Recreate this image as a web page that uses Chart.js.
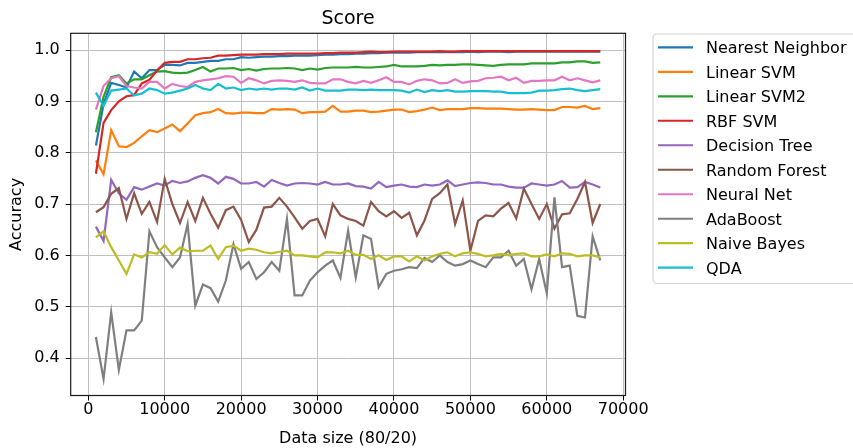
<!DOCTYPE html>
<html>
<head>
<meta charset="utf-8">
<script src="https://cdn.jsdelivr.net/npm/chart.js@4.4.0/dist/chart.umd.min.js"></script>
<style>
html,body{margin:0;padding:0;background:#fff;}
#wrap{width:853px;height:448px;position:relative;}
</style>
</head>
<body>
<div id="wrap"><canvas id="c" width="853" height="448"></canvas></div>
<script>
const sizes = [1000,2000,3000,4000,5000,6000,7000,8000,9000,10000,11000,12000,13000,14000,15000,16000,17000,18000,19000,20000,21000,22000,23000,24000,25000,26000,27000,28000,29000,30000,31000,32000,33000,34000,35000,36000,37000,38000,39000,40000,41000,42000,43000,44000,45000,46000,47000,48000,49000,50000,51000,52000,53000,54000,55000,56000,57000,58000,59000,60000,61000,62000,63000,64000,65000,66000,67000];

const nearestNeighbor = [0.814,0.895,0.936,0.932,0.927,0.958,0.945,0.961,0.961,0.971,0.971,0.970,0.975,0.975,0.977,0.979,0.979,0.982,0.982,0.986,0.985,0.986,0.987,0.987,0.988,0.988,0.989,0.989,0.989,0.990,0.991,0.991,0.992,0.992,0.993,0.993,0.994,0.994,0.995,0.995,0.995,0.995,0.996,0.996,0.996,0.996,0.996,0.996,0.996,0.997,0.996,0.997,0.997,0.997,0.996,0.997,0.997,0.997,0.997,0.997,0.997,0.997,0.997,0.997,0.997,0.997,0.997];
const linearSVM = [0.785,0.758,0.844,0.8125,0.811,0.819,0.832,0.844,0.840,0.847,0.855,0.842,0.857,0.873,0.877,0.879,0.885,0.877,0.876,0.878,0.878,0.877,0.877,0.885,0.884,0.885,0.884,0.877,0.879,0.879,0.880,0.891,0.880,0.880,0.882,0.882,0.879,0.880,0.882,0.884,0.884,0.879,0.881,0.884,0.888,0.883,0.885,0.885,0.885,0.887,0.887,0.886,0.886,0.886,0.885,0.884,0.884,0.885,0.884,0.883,0.883,0.889,0.889,0.888,0.891,0.885,0.887];
const linearSVM2 = [0.840,0.909,0.947,0.951,0.935,0.943,0.943,0.951,0.958,0.959,0.956,0.955,0.956,0.961,0.967,0.958,0.964,0.964,0.965,0.961,0.963,0.960,0.963,0.964,0.964,0.965,0.964,0.961,0.964,0.962,0.965,0.966,0.966,0.966,0.967,0.966,0.966,0.967,0.968,0.971,0.968,0.968,0.968,0.969,0.971,0.970,0.971,0.971,0.972,0.972,0.971,0.970,0.969,0.971,0.972,0.972,0.972,0.974,0.974,0.974,0.974,0.976,0.976,0.978,0.978,0.975,0.976];
const rbfSVM = [0.759,0.858,0.883,0.900,0.910,0.912,0.935,0.942,0.960,0.975,0.977,0.977,0.982,0.982,0.984,0.985,0.989,0.989,0.990,0.991,0.991,0.991,0.992,0.992,0.992,0.993,0.993,0.993,0.993,0.993,0.994,0.994,0.995,0.995,0.995,0.996,0.997,0.996,0.996,0.997,0.997,0.997,0.997,0.997,0.997,0.998,0.997,0.997,0.998,0.998,0.998,0.998,0.998,0.998,0.998,0.998,0.998,0.998,0.998,0.998,0.998,0.998,0.998,0.998,0.998,0.998,0.998];
const decisionTree = [0.656,0.628,0.747,0.721,0.708,0.733,0.728,0.734,0.740,0.736,0.745,0.741,0.744,0.751,0.756,0.751,0.740,0.753,0.749,0.740,0.740,0.743,0.734,0.747,0.741,0.736,0.740,0.741,0.740,0.738,0.743,0.738,0.738,0.740,0.735,0.734,0.730,0.743,0.733,0.736,0.738,0.734,0.733,0.738,0.736,0.738,0.746,0.735,0.738,0.741,0.742,0.741,0.738,0.738,0.734,0.732,0.732,0.740,0.738,0.736,0.738,0.745,0.732,0.733,0.743,0.738,0.732];
const randomForest = [0.684,0.694,0.720,0.731,0.671,0.721,0.681,0.704,0.665,0.749,0.700,0.663,0.704,0.667,0.712,0.681,0.654,0.688,0.695,0.669,0.626,0.650,0.693,0.695,0.712,0.695,0.674,0.652,0.667,0.671,0.637,0.700,0.678,0.671,0.667,0.658,0.704,0.686,0.676,0.686,0.673,0.683,0.639,0.668,0.710,0.721,0.738,0.661,0.707,0.609,0.667,0.678,0.676,0.691,0.702,0.672,0.730,0.700,0.671,0.700,0.652,0.680,0.682,0.710,0.743,0.663,0.700];
const neuralNet = [0.884,0.930,0.945,0.949,0.930,0.927,0.925,0.938,0.938,0.925,0.934,0.930,0.928,0.938,0.941,0.943,0.945,0.949,0.948,0.936,0.945,0.941,0.935,0.940,0.941,0.940,0.938,0.941,0.936,0.935,0.935,0.943,0.943,0.938,0.935,0.940,0.936,0.941,0.947,0.938,0.938,0.933,0.940,0.943,0.941,0.935,0.936,0.943,0.936,0.939,0.940,0.945,0.946,0.948,0.941,0.946,0.936,0.940,0.940,0.941,0.941,0.948,0.941,0.945,0.941,0.937,0.941];
const adaBoost = [0.441,0.359,0.489,0.377,0.454,0.454,0.473,0.647,0.616,0.596,0.577,0.596,0.661,0.502,0.543,0.536,0.510,0.551,0.622,0.574,0.587,0.554,0.567,0.587,0.570,0.671,0.522,0.522,0.551,0.567,0.580,0.590,0.556,0.648,0.557,0.639,0.632,0.538,0.564,0.570,0.573,0.577,0.575,0.595,0.587,0.600,0.587,0.580,0.583,0.590,0.583,0.577,0.596,0.596,0.609,0.580,0.593,0.534,0.593,0.526,0.713,0.577,0.580,0.482,0.479,0.637,0.590];
const naiveBayes = [0.635,0.647,0.616,0.590,0.564,0.602,0.596,0.606,0.603,0.620,0.602,0.615,0.608,0.609,0.609,0.619,0.593,0.616,0.619,0.609,0.613,0.611,0.606,0.604,0.607,0.609,0.600,0.600,0.598,0.596,0.606,0.606,0.604,0.609,0.601,0.601,0.593,0.600,0.591,0.598,0.598,0.588,0.598,0.590,0.598,0.603,0.606,0.598,0.604,0.606,0.603,0.598,0.600,0.603,0.600,0.603,0.604,0.598,0.598,0.602,0.598,0.604,0.603,0.598,0.600,0.600,0.596];
const qda = [0.917,0.891,0.921,0.923,0.925,0.912,0.915,0.925,0.922,0.915,0.917,0.921,0.925,0.932,0.925,0.922,0.934,0.925,0.927,0.922,0.925,0.923,0.925,0.923,0.925,0.925,0.923,0.927,0.921,0.925,0.921,0.921,0.921,0.923,0.923,0.922,0.923,0.922,0.922,0.922,0.921,0.917,0.923,0.918,0.922,0.920,0.922,0.919,0.919,0.920,0.920,0.920,0.919,0.919,0.916,0.916,0.916,0.917,0.921,0.921,0.922,0.924,0.925,0.922,0.920,0.922,0.924];

const seriesNames = ["Nearest Neighbor","Linear SVM","Linear SVM2","RBF SVM","Decision Tree","Random Forest","Neural Net","AdaBoost","Naive Bayes","QDA"];
const seriesValues = [nearestNeighbor,linearSVM,linearSVM2,rbfSVM,decisionTree,randomForest,neuralNet,adaBoost,naiveBayes,qda];
const seriesColors = ["#1f77b4","#ff7f0e","#2ca02c","#d62728","#9467bd","#8c564b","#e377c2","#7f7f7f","#bcbd22","#17becf"];

const xTicks = [0,10000,20000,30000,40000,50000,60000,70000];
const yTicks = [0.4,0.5,0.6,0.7,0.8,0.9,1.0];
const titleText = "Score";
const xTitle = "Data size (80/20)";
const yTitle = "Accuracy";

const FONT = "'DejaVu Sans', sans-serif";

const datasets = seriesNames.map((name, i) => ({
  label: name,
  data: sizes.map((s, j) => ({x: s, y: seriesValues[i][j]})),
  borderColor: seriesColors[i],
  backgroundColor: seriesColors[i],
  borderWidth: 2.2,
  pointRadius: 0,
  pointHoverRadius: 0,
  tension: 0,
  fill: false,
  order: seriesNames.length - i
}));

const framePlugin = {
  id: 'frame',
  afterDatasetsDraw(chart) {
    const {ctx, chartArea: a} = chart;
    ctx.save();
    ctx.strokeStyle = '#1a1a1a';
    ctx.lineWidth = 1.2;
    ctx.strokeRect(a.left, a.top, a.right - a.left, a.bottom - a.top);
    ctx.restore();
  },
  afterDraw(chart) {
    const {ctx, chartArea: a} = chart;
    ctx.save();
    // title
    ctx.fillStyle = '#000';
    ctx.font = "19px " + FONT;
    ctx.textAlign = 'center';
    ctx.textBaseline = 'alphabetic';
    ctx.fillText(titleText, (a.left + a.right) / 2, 24.3);
    // legend
    const bx = 653, by = 34, bw = 215, bh = 249.5, r = 4;
    ctx.beginPath();
    ctx.moveTo(bx + r, by);
    ctx.lineTo(bx + bw - r, by);
    ctx.arcTo(bx + bw, by, bx + bw, by + r, r);
    ctx.lineTo(bx + bw, by + bh - r);
    ctx.arcTo(bx + bw, by + bh, bx + bw - r, by + bh, r);
    ctx.lineTo(bx + r, by + bh);
    ctx.arcTo(bx, by + bh, bx, by + bh - r, r);
    ctx.lineTo(bx, by + r);
    ctx.arcTo(bx, by, bx + r, by, r);
    ctx.closePath();
    ctx.fillStyle = 'rgba(255,255,255,0.8)';
    ctx.fill();
    ctx.strokeStyle = '#d4d4d4';
    ctx.lineWidth = 1.2;
    ctx.stroke();
    ctx.font = "16px " + FONT;
    ctx.textAlign = 'left';
    chart.data.datasets.forEach((ds, i) => {
      const y = 47.3 + 24.49 * i;
      ctx.strokeStyle = ds.borderColor;
      ctx.lineWidth = 2.2;
      ctx.beginPath();
      ctx.moveTo(658, y);
      ctx.lineTo(693, y);
      ctx.stroke();
      ctx.fillStyle = '#000';
      ctx.fillText(ds.label, 706, y + 5.8);
    });
    ctx.restore();
  }
};

new Chart(document.getElementById('c'), {
  type: 'line',
  data: { datasets },
  options: {
    responsive: false,
    animation: false,
    devicePixelRatio: 1,
    layout: { padding: { left: 0, right: 853 - 625.5, top: 33.3, bottom: 0 } },
    plugins: {
      legend: { display: false },
      title: { display: false },
      tooltip: { enabled: false }
    },
    scales: {
      x: {
        type: 'linear',
        min: -2300,
        max: 70300,
        afterBuildTicks(scale) { scale.ticks = xTicks.map(v => ({value: v})); },
        afterFit(scale) { scale.height = 448 - 395.5; },
        grid: { color: '#c0c0c0', lineWidth: 1, tickColor: '#000', tickLength: 5, drawTicks: true },
        border: { display: false },
        ticks: { color: '#000', font: { family: FONT, size: 16 }, padding: 0, maxRotation: 0, autoSkip: false,
                 callback: v => String(v) },
        title: { display: true, text: xTitle, color: '#000', font: { family: FONT, size: 16 }, padding: { top: 1.5, bottom: 0 } }
      },
      y: {
        type: 'linear',
        min: 0.327,
        max: 1.0326,
        afterBuildTicks(scale) { scale.ticks = yTicks.map(v => ({value: v})); },
        afterFit(scale) { scale.width = 70.7; },
        grid: { color: '#c0c0c0', lineWidth: 1, tickColor: '#000', tickLength: 5, drawTicks: true },
        border: { display: false },
        ticks: { color: '#000', font: { family: FONT, size: 16 }, padding: 6, autoSkip: false,
                 callback: v => v.toFixed(1) },
        title: { display: true, text: yTitle, color: '#000', font: { family: FONT, size: 16 }, padding: { top: 7, bottom: 0 } }
      }
    }
  },
  plugins: [framePlugin]
});
</script>
</body>
</html>
